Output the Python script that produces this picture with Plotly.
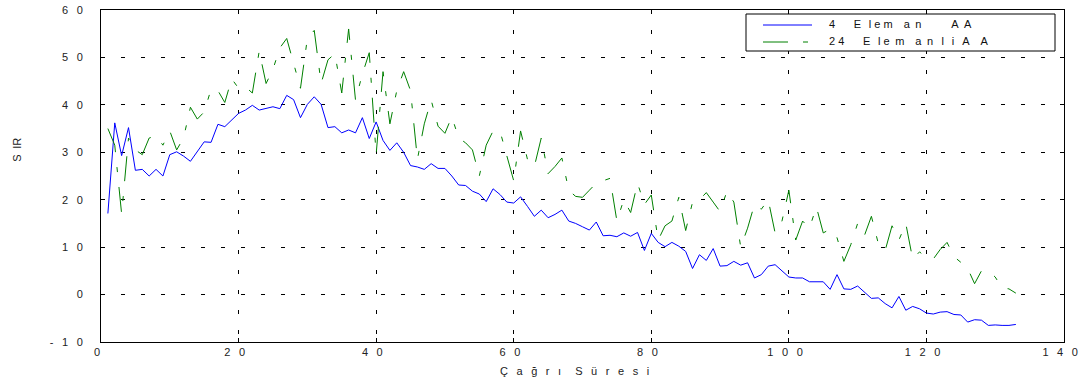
import plotly.graph_objects as go

# ---------------- data ----------------
time_x = list(range(1, 134))

sir_4_eleman = [
    17.1, 36.2, 29.3, 35.2, 26.2, 26.4, 25.0, 26.4, 25.0, 29.5,
    30.1, 29.2, 28.1, 30.2, 32.2, 32.1, 35.9, 35.4, 36.9, 38.2,
    38.9, 39.9, 38.9, 39.2, 39.6, 39.2, 42.0, 41.1, 37.3, 40.1,
    41.7, 40.1, 35.2, 35.4, 34.1, 34.7, 34.1, 37.3, 32.9, 36.4,
    32.5, 30.4, 32.0, 30.0, 27.2, 26.9, 26.4, 27.6, 26.6, 26.6,
    25.0, 23.1, 23.0, 21.8, 21.2, 19.6, 22.3, 21.1, 19.5, 19.3,
    20.6, 18.6, 16.5, 17.8, 16.2, 16.9, 17.8, 15.5, 15.0, 14.3,
    13.6, 15.3, 12.4, 12.5, 12.2, 13.0, 12.3, 13.1, 9.3, 12.9,
    11.0, 10.1, 11.0, 10.2, 9.1, 5.5, 8.4, 7.2, 9.7, 6.0,
    6.1, 7.0, 6.2, 6.7, 3.5, 4.2, 6.0, 6.3, 5.1, 3.7,
    3.5, 3.5, 2.7, 2.7, 2.7, 1.1, 4.2, 1.2, 1.1, 1.8,
    0.5, -0.8, -0.7, -1.9, -2.8, -0.4, -3.3, -2.5, -3.0, -3.9,
    -4.1, -3.7, -3.6, -4.2, -4.3, -5.8, -5.3, -5.4, -6.5, -6.4,
    -6.5, -6.5, -6.3,
]

sir_24_elemanli = [
    35.0, 31.5, 17.0, 33.0, 30.5, 29.5, 33.0, 33.5, 31.5, 34.5,
    30.5, 33.0, 39.5, 37.0, 38.5, 43.3, 43.0, 40.5, 45.5, 43.5,
    43.8, 42.5, 51.3, 44.5, 47.5, 52.0, 54.0, 49.0, 43.5, 54.0,
    55.7, 44.5, 49.5, 50.8, 42.5, 56.0, 41.0, 46.5, 51.0, 29.5,
    47.0, 36.0, 43.0, 47.0, 43.0, 28.5, 36.0, 41.0, 35.5, 34.0,
    37.5, 33.0, 32.0, 30.5, 25.0, 31.5, 34.5, 34.5, 29.0, 24.0,
    34.5, 28.5, 27.0, 33.0, 25.5, 27.0, 28.8, 22.0, 20.7, 20.5,
    22.0, 23.5, 24.0, 24.5, 15.5, 20.0, 17.3, 23.5, 19.0, 21.0,
    11.5, 14.5, 15.5, 20.5, 13.5, 19.5, 20.0, 21.5, 19.5, 17.5,
    21.8, 19.5, 10.0, 14.0, 19.0, 18.0, 20.0, 13.0, 15.5, 22.0,
    11.5, 15.5, 14.0, 18.5, 13.0, 13.8, 12.0, 7.0, 10.5, 15.0,
    12.5, 16.5, 10.8, 9.3, 14.5, 11.5, 15.0, 7.5, 9.0, 7.8,
    7.5, 9.5, 11.0, 8.0, 6.8, 5.5, 2.3, 5.0, 5.0, 3.7,
    1.4, 1.2, 0.3,
]

x_tick_vals = [0, 20, 40, 60, 80, 100, 120, 140]
y_tick_vals = [-10, 0, 10, 20, 30, 40, 50, 60]

# spaced-out labels as they appear in the figure
EN = "\u2002"
EM = "\u2003"
TH = "\u2009"
name_blue = "4" + EM + EN + TH + "E" + EN + TH + "l e m" + EM + "a" + EN + "n" + EM + EM + EN + TH + "A" + EN + "A"
name_green = ("2 4" + EM + EN + TH + "E" + EN + TH + "l e" + EN + "m" + EM + "a" + EN + "n" + EN + " l"
              + EN + TH + "i" + EN + " A" + EM + "A")
x_title = "Ç" + EN + " a" + EN + " ğ" + EN + " r" + EN + " ı" + EN + " " + EN + "S" + EN + " ü" + EN + " r" + EN + " e" + EN + " s" + EN + " i"
y_title = "S" + EN + "IR"


def spaced(s):
    return (EN + " ").join(list(s))


x_tick_text = [spaced(str(v)) + EN + TH for v in x_tick_vals]
y_tick_text = [spaced(str(v)) for v in y_tick_vals]

FONT = "Liberation Sans, Arial, sans-serif"
BLUE = "#0000ff"
GREEN = "#008000"
GREEN_DASH = "25px,15px,5px,15px"

fig = go.Figure()
fig.add_trace(go.Scatter(
    x=time_x, y=sir_4_eleman, mode="lines", name=name_blue,
    line=dict(color=BLUE, width=1),
))
fig.add_trace(go.Scatter(
    x=time_x, y=sir_24_elemanli, mode="lines", name=name_green,
    line=dict(color=GREEN, width=1, dash=GREEN_DASH),
))

axis_common = dict(
    showline=True, linecolor="black", linewidth=1, mirror="ticks",
    ticks="inside", ticklen=4, tickcolor="black",
    showgrid=True, gridcolor="black", gridwidth=1, griddash="4px,16px",
    zeroline=False, automargin=False,
    tickfont=dict(family=FONT, size=11, color="#222222"),
)

fig.update_xaxes(range=[0, 140], tickmode="array", tickvals=x_tick_vals,
                 ticktext=x_tick_text, ticklabelstandoff=0, **axis_common)
fig.update_yaxes(range=[-10, 60], tickmode="array", tickvals=y_tick_vals,
                 ticktext=y_tick_text, ticklabelstandoff=15, **axis_common)

fig.add_annotation(text=x_title, xref="paper", yref="paper", x=0.492, y=-0.087,
                   xanchor="center", yanchor="middle", showarrow=False,
                   font=dict(family=FONT, size=11, color="#222222"))
fig.add_annotation(text=y_title, xref="paper", yref="paper",
                   x=-0.087, y=0.58, textangle=-90,
                   xanchor="center", yanchor="middle", showarrow=False,
                   font=dict(family=FONT, size=11, color="#222222"))

# ---- legend box (drawn to match the reference's compact legend) ----
PL, PW, PB, PH = 101.0, 963.0, 342.0, 332.0


def px_x(p):
    return (p - PL) / PW


def px_y(p):
    return (PB - p) / PH


fig.add_shape(type="rect", xref="paper", yref="paper", layer="above",
              x0=px_x(746), x1=px_x(1055), y0=px_y(51), y1=px_y(14),
              fillcolor="white", line=dict(color="black", width=1))
fig.add_shape(type="line", xref="paper", yref="paper", layer="above",
              x0=px_x(763), x1=px_x(812), y0=px_y(25), y1=px_y(25),
              line=dict(color=BLUE, width=1))
fig.add_shape(type="line", xref="paper", yref="paper", layer="above",
              x0=px_x(763), x1=px_x(812), y0=px_y(42), y1=px_y(42),
              line=dict(color=GREEN, width=1, dash=GREEN_DASH))
fig.add_annotation(text=name_blue, xref="paper", yref="paper",
                   x=px_x(827), y=px_y(24.5), xanchor="left", yanchor="middle",
                   showarrow=False, font=dict(family=FONT, size=11, color="#111111"))
fig.add_annotation(text=name_green, xref="paper", yref="paper",
                   x=px_x(827), y=px_y(41), xanchor="left", yanchor="middle",
                   showarrow=False, font=dict(family=FONT, size=11, color="#111111"))

fig.update_layout(
    width=1087, height=381,
    margin=dict(l=101, r=23, t=10, b=39, autoexpand=False),
    paper_bgcolor="white", plot_bgcolor="white",
    showlegend=False,
    font=dict(family=FONT),
)

fig.write_html("out.html", config={"displayModeBar": False},
               post_script="document.body.style.margin='0px';")
